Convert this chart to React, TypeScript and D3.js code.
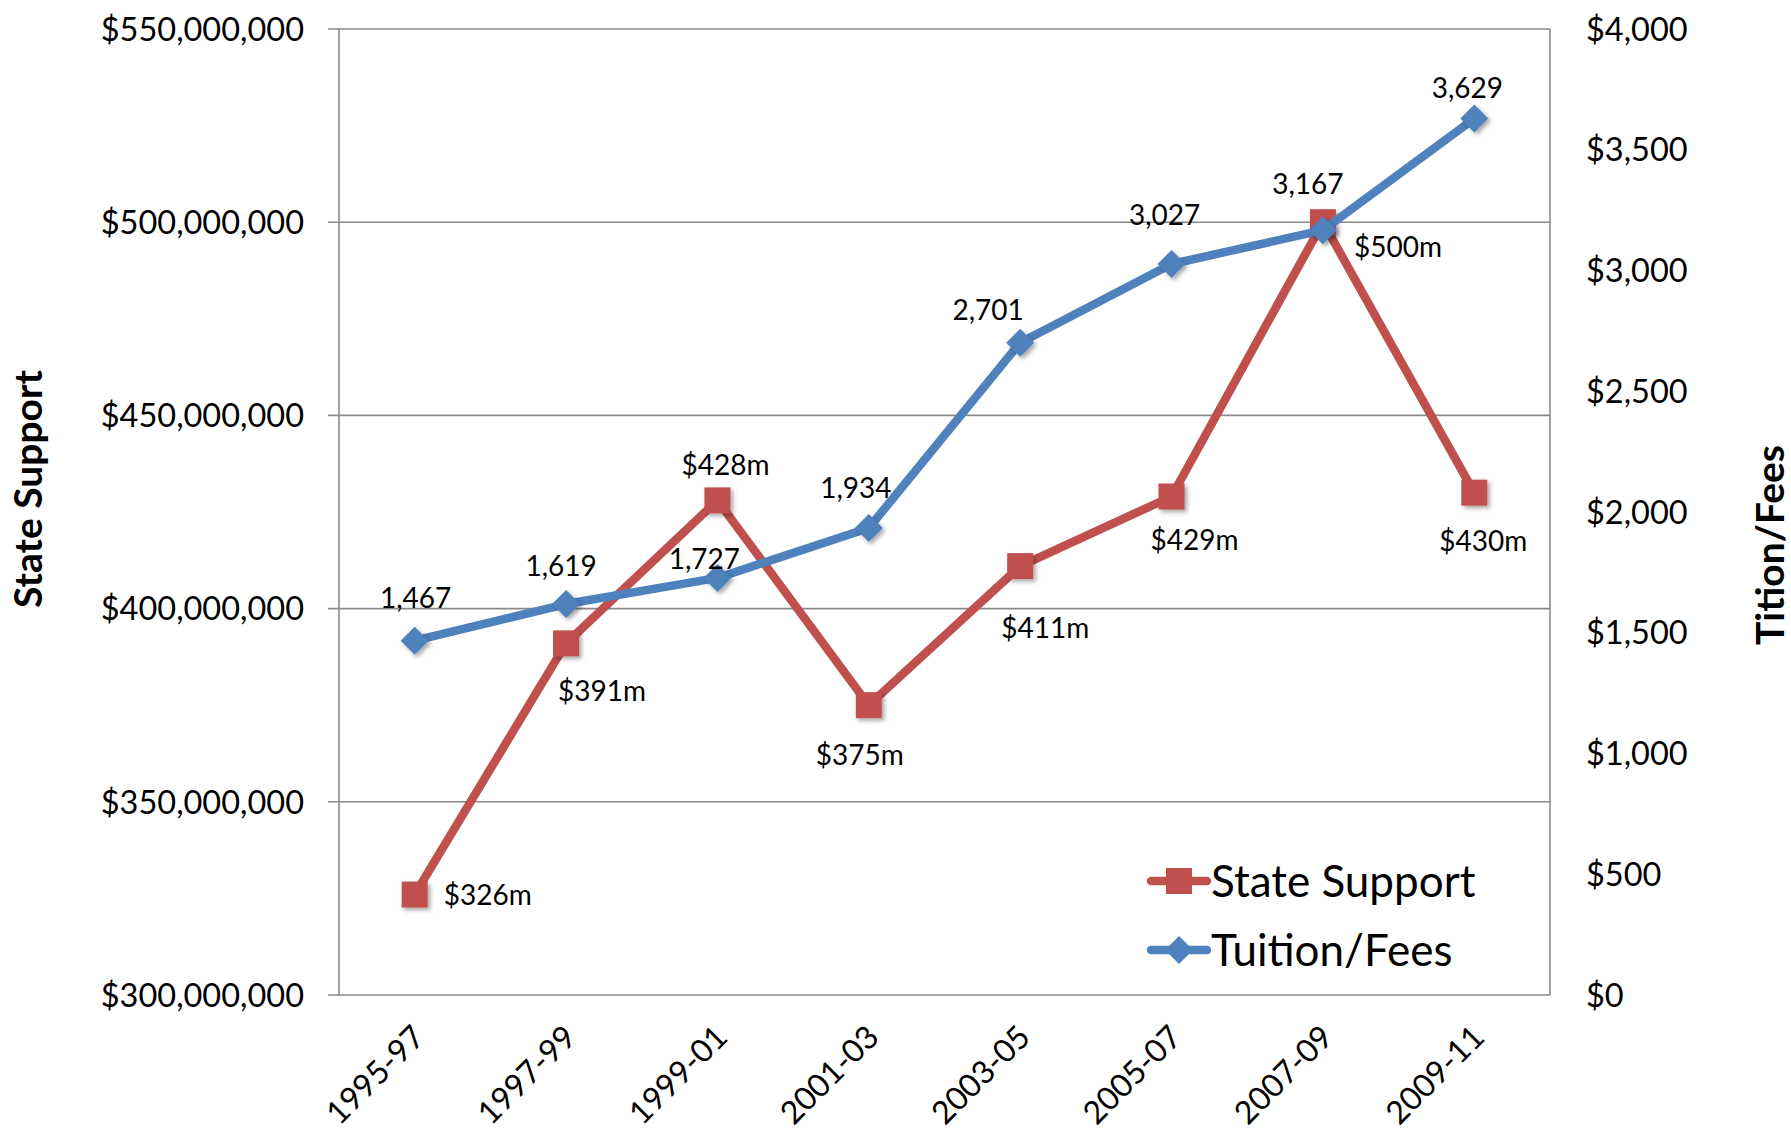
import React from 'react';
import * as d3 from 'd3';

// ---- data ----
const categories = ['1995-97', '1997-99', '1999-01', '2001-03', '2003-05', '2005-07', '2007-09', '2009-11'];
const stateSupportMillions = [326, 391, 428, 375, 411, 429, 500, 430];
const tuitionFees = [1467, 1619, 1727, 1934, 2701, 3027, 3167, 3629];
const leftTicks = [300000000, 350000000, 400000000, 450000000, 500000000, 550000000];
const rightTicks = [0, 500, 1000, 1500, 2000, 2500, 3000, 3500, 4000];
const seriesNames = ['State Support', 'Tuition/Fees'];
const leftAxisTitle = 'State Support';
const rightAxisTitle = 'Tition/Fees';

// ---- layout (label nudges, px) ----
const tuitionLabelNudge: [number, number][] = [[1, -43], [-5, -38], [-13, -19], [-13, -40], [-32, -33], [-7, -49], [-15, -46], [-7, -31]];
const stateLabelNudge: [number, number][] = [[73, 0], [36, 48], [8, -35], [-9, 50], [25, 62], [23, 43], [75, 25], [9, 48]];

const W = 1791;
const H = 1133;
const M = { left: 339, right: 1550, top: 29, bottom: 995 };
const RED = '#C0504D';
const BLUE = '#4F81BD';
const GRID = '#8a8a8a';
const FONT = 'Lato, "Open Sans", sans-serif';

export default function App() {
  const x = d3.scaleBand<string>().domain(categories).range([M.left, M.right]).padding(0);
  const cx = (c: string) => (x(c) as number) + x.bandwidth() / 2;
  const yL = d3.scaleLinear().domain([300000000, 550000000]).range([M.bottom, M.top]);
  const yR = d3.scaleLinear().domain([0, 4000]).range([M.bottom, M.top]);
  const fmt = d3.format(',');

  const statePts = categories.map((c, i) => [cx(c), yL(stateSupportMillions[i] * 1e6)] as [number, number]);
  const tuitPts = categories.map((c, i) => [cx(c), yR(tuitionFees[i])] as [number, number]);
  const line = d3.line<[number, number]>().x(d => d[0]).y(d => d[1]);

  const sq = 26;
  const dm = 14;
  const diamond = (px: number, py: number) => `M${px},${py - dm}L${px + dm},${py}L${px},${py + dm}L${px - dm},${py}Z`;

  const legX0 = 1151, legX1 = 1207, legMid = 1179;
  const legY = [881, 950];

  return (
    <svg width={W} height={H} style={{ position: 'absolute', left: 0, top: 0, background: '#fff' }} fontFamily={FONT}>
      <defs>
        <filter id="shadow" x="-50%" y="-50%" width="200%" height="200%">
          <feDropShadow dx="2.5" dy="2.5" stdDeviation="2" floodColor="#000" floodOpacity="0.35" />
        </filter>
      </defs>
      <rect x={0} y={0} width={W} height={H} fill="#fff" />

      {/* gridlines + left ticks */}
      {leftTicks.map(t => (
        <line key={'g' + t} x1={M.left - 11} x2={M.right} y1={yL(t)} y2={yL(t)} stroke={GRID} strokeWidth={1.6} />
      ))}
      {/* axes */}
      <line x1={M.left} x2={M.left} y1={M.top} y2={M.bottom} stroke={GRID} strokeWidth={1.6} />
      <line x1={M.right} x2={M.right} y1={M.top} y2={M.bottom} stroke={GRID} strokeWidth={1.6} />

      {/* left tick labels */}
      {leftTicks.map(t => (
        <text key={'l' + t} x={304} y={yL(t)} dy="0.36em" textAnchor="end" fontSize={32.5} fill="#000">
          {'$' + fmt(t)}
        </text>
      ))}
      {/* right tick labels */}
      {rightTicks.map(t => (
        <text key={'r' + t} x={1586} y={yR(t)} dy="0.36em" textAnchor="start" fontSize={32.5} fill="#000">
          {'$' + fmt(t)}
        </text>
      ))}
      {/* x labels */}
      {categories.map(c => (
        <text key={'x' + c} transform={`translate(${cx(c) + 12},${M.bottom + 44}) rotate(-45)`} textAnchor="end" fontSize={32} fill="#000">
          {c}
        </text>
      ))}

      {/* axis titles */}
      <text transform={`translate(28,489) rotate(-90)`} textAnchor="middle" dy="0.36em" fontSize={39} fontWeight="bold" fill="#000">
        {leftAxisTitle}
      </text>
      <text transform={`translate(1770,545) rotate(-90)`} textAnchor="middle" dy="0.36em" fontSize={39} fontWeight="bold" fill="#000">
        {rightAxisTitle}
      </text>

      {/* State Support series */}
      <path d={line(statePts) || ''} fill="none" stroke={RED} strokeWidth={8.5} strokeLinejoin="round" />
      {statePts.map((p, i) => (
        <rect key={'s' + i} x={p[0] - sq / 2} y={p[1] - sq / 2} width={sq} height={sq} fill={RED} filter="url(#shadow)" />
      ))}

      {/* Tuition series */}
      <path d={line(tuitPts) || ''} fill="none" stroke={BLUE} strokeWidth={8.5} strokeLinejoin="round" />
      {tuitPts.map((p, i) => (
        <path key={'t' + i} d={diamond(p[0], p[1])} fill={BLUE} filter="url(#shadow)" />
      ))}

      {/* data labels */}
      {statePts.map((p, i) => (
        <text key={'sl' + i} x={p[0] + stateLabelNudge[i][0]} y={p[1] + stateLabelNudge[i][1]} dy="0.36em" textAnchor="middle" fontSize={28} fill="#000">
          {'$' + stateSupportMillions[i] + 'm'}
        </text>
      ))}
      {tuitPts.map((p, i) => (
        <text key={'tl' + i} x={p[0] + tuitionLabelNudge[i][0]} y={p[1] + tuitionLabelNudge[i][1]} dy="0.36em" textAnchor="middle" fontSize={28} fill="#000">
          {fmt(tuitionFees[i])}
        </text>
      ))}

      {/* legend */}
      <line x1={legX0} x2={legX1} y1={legY[0]} y2={legY[0]} stroke={RED} strokeWidth={8.5} strokeLinecap="round" />
      <rect x={legMid - 13} y={legY[0] - 13} width={26} height={26} fill={RED} />
      <text x={1211} y={legY[0]} dy="0.36em" fontSize={44} fill="#000">{seriesNames[0]}</text>
      <line x1={legX0} x2={legX1} y1={legY[1]} y2={legY[1]} stroke={BLUE} strokeWidth={8.5} strokeLinecap="round" />
      <path d={diamond(legMid, legY[1])} fill={BLUE} />
      <text x={1211} y={legY[1]} dy="0.36em" fontSize={44} fill="#000">{seriesNames[1]}</text>
    </svg>
  );
}
